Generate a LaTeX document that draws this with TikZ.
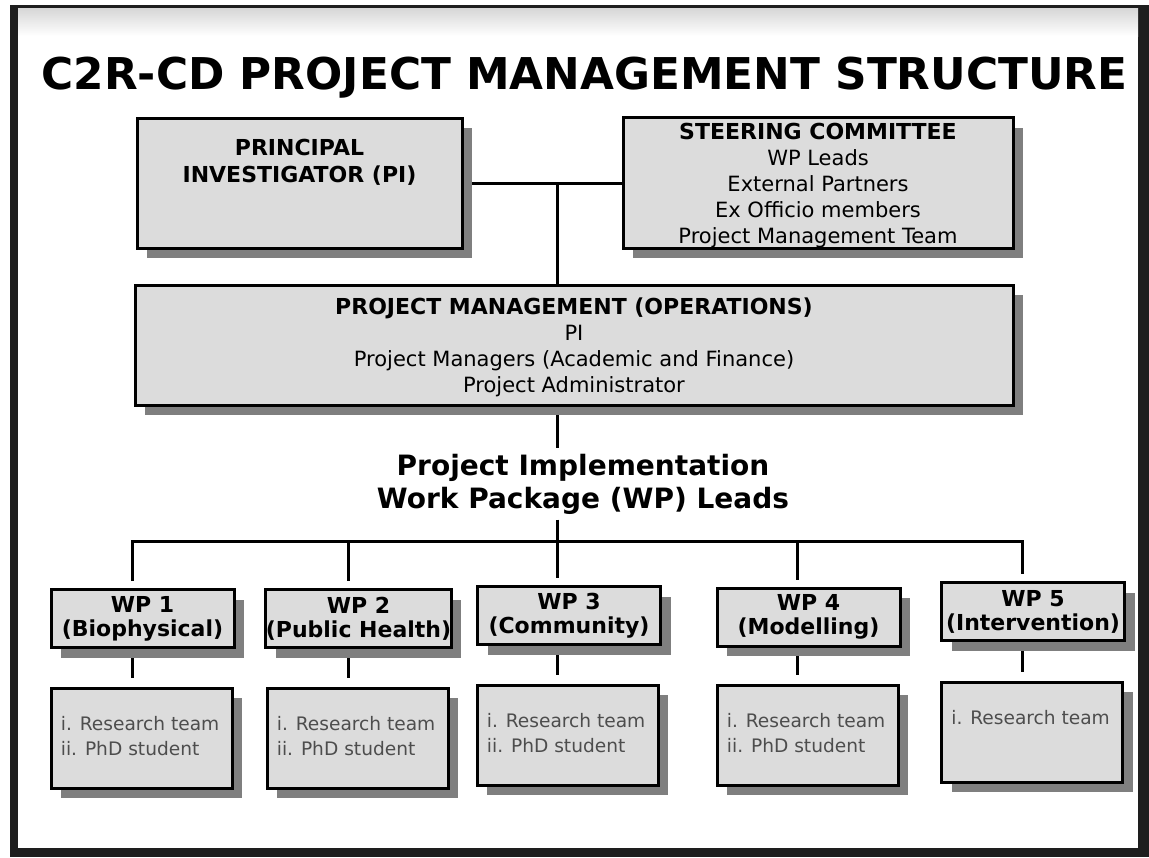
\documentclass[tikz,border=0pt]{standalone}
\usepackage{fontspec}
\setmainfont{DejaVu Sans}
\usetikzlibrary{positioning,shadows}
\definecolor{boxgray}{HTML}{DCDCDC}
\definecolor{shadowgray}{HTML}{7F7F7F}
\definecolor{framedark}{HTML}{1E1E1E}
\definecolor{subtextgray}{HTML}{4D4D4D}
\pgfdeclarelayer{bg}
\pgfdeclarelayer{lines}
\pgfsetlayers{bg,lines,main}

\begin{document}
\begin{tikzpicture} [
      x = 0.5pt, y = -0.5pt,
      box/.style = { draw = black, line width = 1.5pt, fill = boxgray, inner sep = 0,
        drop shadow={shadow xshift=5pt,shadow yshift=-5pt,opacity=1,fill=shadowgray} },
      bigbox/.style = { box, align = center, font = \fontsize{10.5}{13}\selectfont },
      wpbox/.style = { box, minimum width = 91.5pt, minimum height = 29pt, align = center,
        font = \fontsize{11}{12}\selectfont\bfseries },
      subbox/.style = { box, minimum width = 90.5pt, minimum height = 50pt },
      subtext/.style = { anchor = north west, inner sep = 0, align = left, text = subtextgray,
        font = \fontsize{9.3}{12.5}\selectfont },
      link/.style = { line width = 1.5pt, line join = miter }
      ]

  % frame of the screenshot
  \begin{pgfonlayer}{bg}
    \fill [white] (0,0) rectangle (1149,857);
    \fill [framedark] (10,5) rectangle (1149,857);
    \fill [white] (18,8) rectangle (1138,848);
    \shade [top color = black!16, bottom color = white] (18,8) rectangle (1138,36);
  \end{pgfonlayer}
  \useasboundingbox (0,0) rectangle (1149,857);

  \node [anchor = base, inner sep = 0, font = \fontsize{21.9}{26}\selectfont\bfseries] (title) at (584.5,89)
    {C2R-CD PROJECT MANAGEMENT STRUCTURE};

  % top level
  \node [box, minimum width = 162.5pt, minimum height = 65pt] (pi) at (299.5,183) {};
  \node [anchor = north, inner sep = 0, align = center, font = \fontsize{11}{13.5}\selectfont\bfseries] (pitext)
    at ([yshift = -11pt]pi.north) {PRINCIPAL\\INVESTIGATOR (PI)};
  \node [bigbox, minimum width = 195pt, minimum height = 65pt] (sc) at (818,183)
    {{\bfseries\fontsize{11}{13}\selectfont\rule{0pt}{11pt}STEERING COMMITTEE}\\WP Leads\\External Partners\\Ex Officio members\\Project Management Team};
  \node [bigbox, minimum width = 439pt, minimum height = 60pt] (pm) at (574,345)
    {{\bfseries\fontsize{11}{13}\selectfont\rule{0pt}{11pt}PROJECT MANAGEMENT (OPERATIONS)}\\PI\\Project Managers (Academic and Finance)\\Project Administrator};
  \node [align = center, inner sep = 2.5pt, font = \fontsize{14}{16.5}\selectfont\bfseries] (impl) at (583,484)
    {Project Implementation\\Work Package (WP) Leads};

  % work packages
  \node [wpbox] (wp1) at (142.5,618.5) {WP 1\\(Biophysical)};
  \node [wpbox] (wp2) at (358.5,618.5) {WP 2\\(Public Health)};
  \node [wpbox] (wp3) at (569,615.5) {WP 3\\(Community)};
  \node [wpbox] (wp4) at (808.5,617) {WP 4\\(Modelling)};
  \node [wpbox] (wp5) at (1033,611.5) {WP 5\\(Intervention)};

  \node [subbox] (sub1) at (141.5,738) {};
  \node [subbox] (sub2) at (357.5,738) {};
  \node [subbox] (sub3) at (567.5,735) {};
  \node [subbox] (sub4) at (807.5,735) {};
  \node [subbox] (sub5) at (1032,732) {};
  \node [subtext] (team1) at ([shift = {(11,29)}]sub1.north west) {i. Research team\\ii. PhD student};
  \node [subtext] (team2) at ([shift = {(11,29)}]sub2.north west) {i. Research team\\ii. PhD student};
  \node [subtext] (team3) at ([shift = {(11,29)}]sub3.north west) {i. Research team\\ii. PhD student};
  \node [subtext] (team4) at ([shift = {(11,29)}]sub4.north west) {i. Research team\\ii. PhD student};
  \node [subtext] (team5) at ([shift = {(11,29)}]sub5.north west) {i. Research team};

  % connectors
  \coordinate (j1) at (557,183);
  \coordinate (t1) at (132,541);
  \coordinate (t2) at (348,541);
  \coordinate (t3) at (557,541);
  \coordinate (t4) at (797,541);
  \coordinate (t5) at (1022,541);
  \begin{pgfonlayer}{lines}
    \draw [link] (pi.east) -- (sc.west);
    \draw [link] (j1) -- (pm.north -| j1);
    \draw [link] (pm.south -| j1) -- (impl.north -| j1);
    \draw [link] (impl.south -| t3) -- (t3);
    \draw [link, shorten < = 3.5pt, shorten > = 3.5pt] (t1 |- wp1.north) -- (t1) -- (t5) -- (t5 |- wp5.north);
    \draw [link, shorten > = 3.5pt] (t2) -- (t2 |- wp2.north);
    \draw [link, shorten > = 3.5pt] (t3) -- (t3 |- wp3.north);
    \draw [link, shorten > = 3.5pt] (t4) -- (t4 |- wp4.north);
    \draw [link, shorten > = 4.5pt] (wp1.south -| t1) -- (sub1.north -| t1);
    \draw [link, shorten > = 4.5pt] (wp2.south -| t2) -- (sub2.north -| t2);
    \draw [link, shorten > = 4.5pt] (wp3.south -| t3) -- (sub3.north -| t3);
    \draw [link, shorten > = 4.5pt] (wp4.south -| t4) -- (sub4.north -| t4);
    \draw [link, shorten > = 4.5pt] (wp5.south -| t5) -- (sub5.north -| t5);
  \end{pgfonlayer}
\end{tikzpicture}
\end{document}
